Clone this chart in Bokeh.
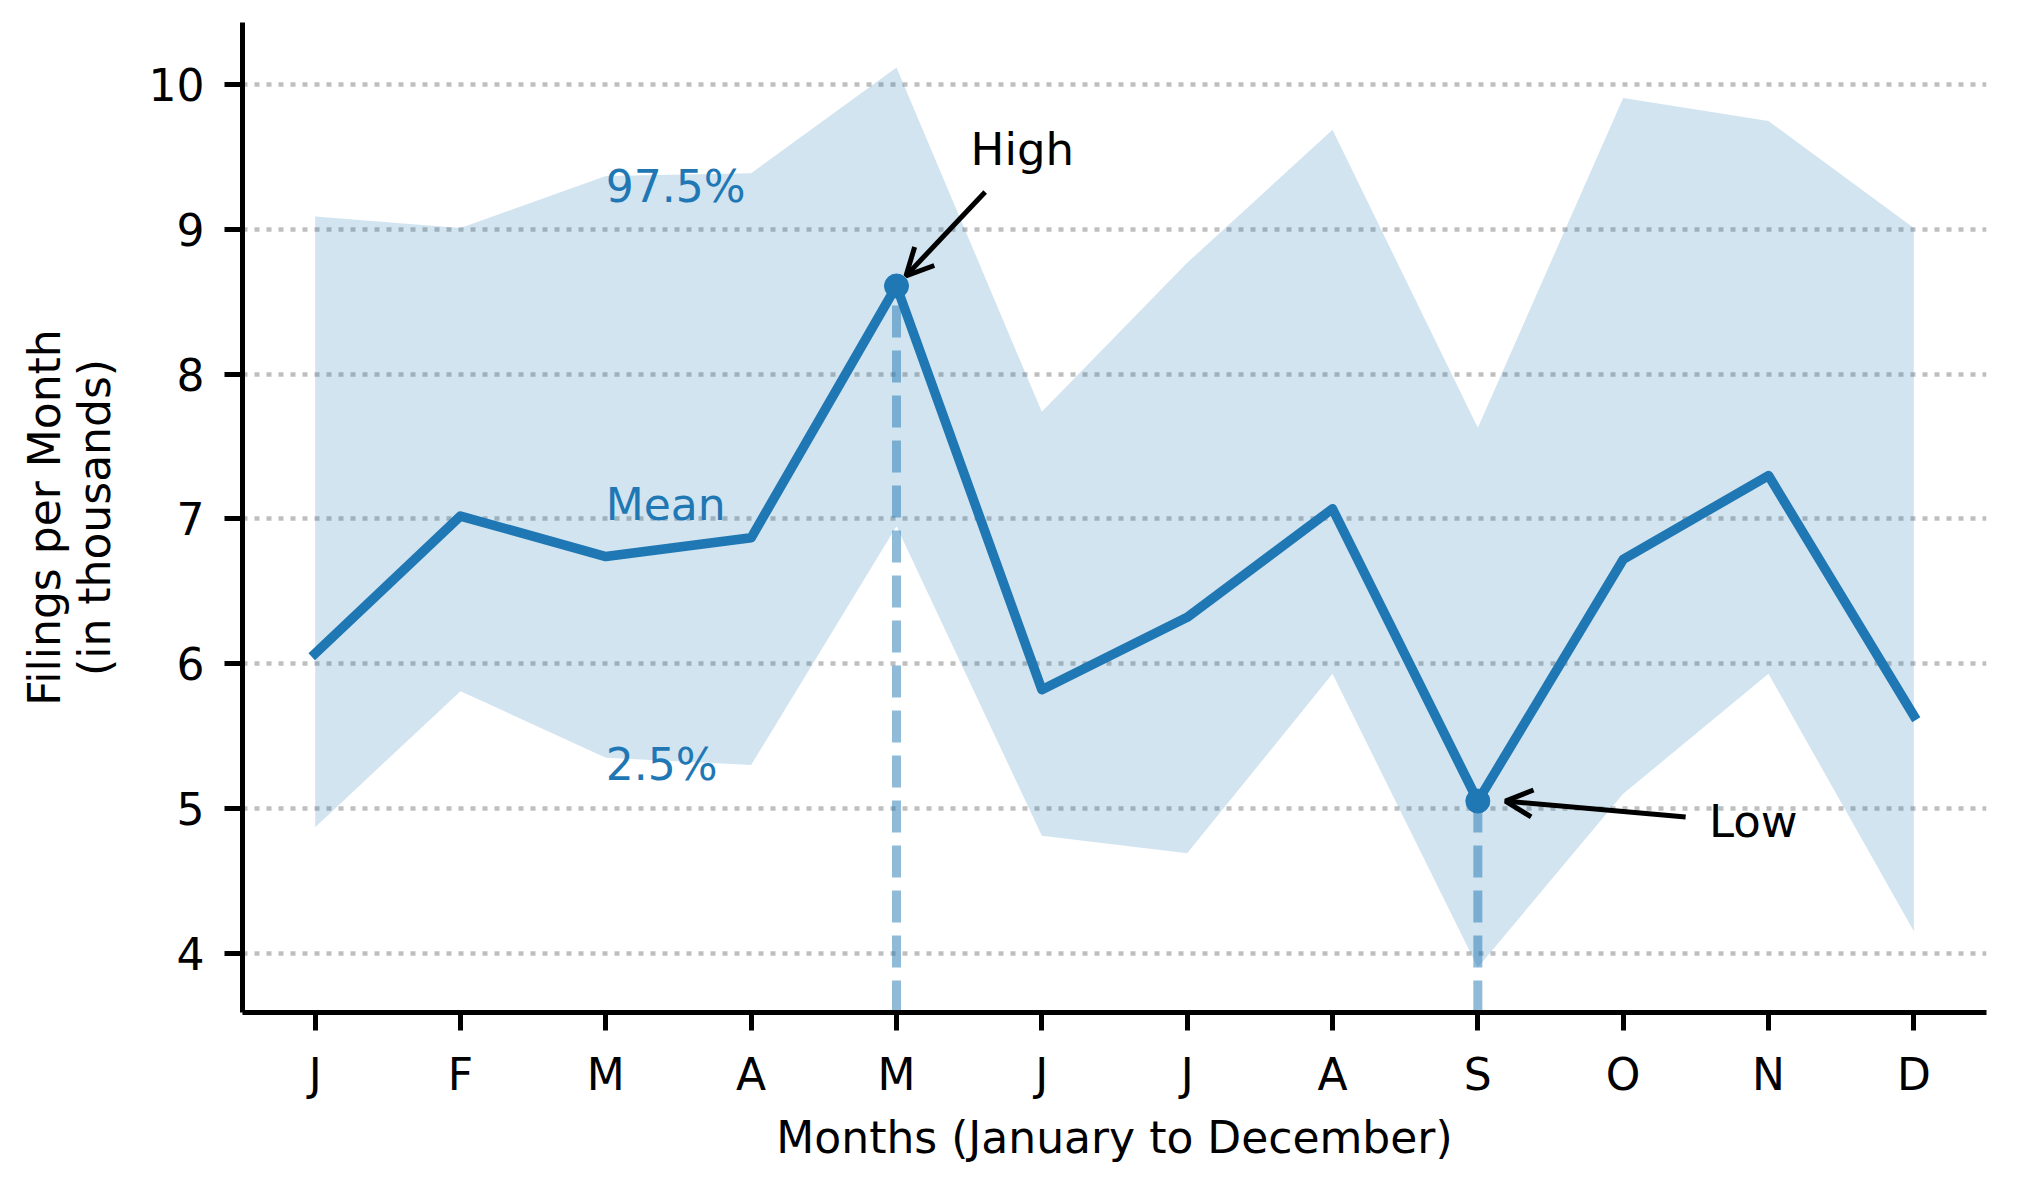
from bokeh.plotting import figure
from bokeh.models import FixedTicker, Label, Arrow, OpenHead
from bokeh.embed import file_html
from bokeh.resources import INLINE

# ---- data ----
months = list(range(1, 13))
month_labels = ["J", "F", "M", "A", "M", "J", "J", "A", "S", "O", "N", "D"]
mean = [6.07, 7.02, 6.74, 6.87, 8.61, 5.82, 6.32, 7.07, 5.05, 6.72, 7.30, 5.64]
upper = [9.09, 9.01, 9.37, 9.39, 10.12, 7.74, 8.77, 9.69, 7.63, 9.91, 9.75, 9.01]
lower = [4.87, 5.81, 5.35, 5.30, 6.95, 4.81, 4.69, 5.93, 3.90, 5.10, 5.93, 4.15]
y_ticks = [4, 5, 6, 7, 8, 9, 10]

C0 = "#1f77b4"
FONT = "DejaVu Sans"
TXT_SHIFT = 0.10  # compensate text baseline rendering

lo_all, hi_all = min(lower), max(upper)
pad = 0.05 * (hi_all - lo_all)
ylo, yhi = lo_all - pad, hi_all + pad

p = figure(width=2000, height=1170, x_range=(0.5, 12.5), y_range=(ylo, yhi),
           min_border_left=242, min_border_right=14, min_border_top=22, min_border_bottom=158,
           output_backend="svg", toolbar_location=None)
p.outline_line_color = None
p.background_fill_color = "white"
p.border_fill_color = "white"

# grid
p.xgrid.grid_line_color = None
p.ygrid.grid_line_color = "#808080"
p.ygrid.grid_line_alpha = 0.5
p.ygrid.grid_line_width = 4.5
p.ygrid.grid_line_dash = "5 7"

# axes
for ax in (p.xaxis[0], p.yaxis[0]):
    ax.axis_line_width = 5
    ax.major_tick_line_width = 5
    ax.major_tick_out = 18
    ax.major_tick_in = 0
    ax.minor_tick_line_color = None
    ax.major_label_text_font = FONT
    ax.major_label_text_font_size = "44px"
    ax.major_label_text_color = "black"
    ax.axis_label_text_font = FONT
    ax.axis_label_text_font_size = "44px"
    ax.axis_label_text_font_style = "normal"
    ax.axis_label_text_color = "black"
    ax.axis_line_color = "black"
    ax.major_tick_line_color = "black"

p.xaxis.ticker = FixedTicker(ticks=months)
p.xaxis.major_label_overrides = {m: lab for m, lab in zip(months, month_labels)}
p.xaxis.major_label_standoff = 18
p.xaxis.axis_label = "Months (January to December)"
p.xaxis.axis_label_standoff = 9

p.yaxis.ticker = FixedTicker(ticks=y_ticks)
p.yaxis.major_label_standoff = 20
p.yaxis.axis_label = "Filings per Month\n(in thousands)"
p.yaxis.axis_label_standoff = 26
p.yaxis.axis_label_text_line_height = 0.98

# band
p.varea(x=months, y1=lower, y2=upper, fill_color=C0, fill_alpha=0.2)

# high / low
hi_i = max(range(12), key=lambda i: mean[i])
lo_i = min(range(12), key=lambda i: mean[i])
hx, hy = months[hi_i], mean[hi_i]
lx, ly = months[lo_i], mean[lo_i]

p.segment(x0=[hx, lx], y0=[ylo, ylo], x1=[hx, lx], y1=[hy, ly],
          line_color=C0, line_alpha=0.5, line_width=9, line_dash="32 13")

# mean line
p.line(months, mean, line_color=C0, line_width=9.5, line_join="round", line_cap="square")
p.scatter([hx, lx], [hy, ly], size=24, fill_color=C0, line_color=C0)

# band labels
for txt, yy in (("97.5%", 9.2), ("Mean", 7.0), ("2.5%", 5.2)):
    p.add_layout(Label(x=3, y=yy + TXT_SHIFT, text=txt, text_color=C0, text_font=FONT,
                       text_font_size="44px", text_align="left", text_baseline="alphabetic"))

# annotations
p.add_layout(Arrow(end=OpenHead(size=27, line_width=5, line_color="black"),
                   x_start=hx + 0.61, y_start=hy + 0.65, x_end=hx + 0.065, y_end=hy + 0.07,
                   line_width=5, line_color="black"))
p.add_layout(Label(x=hx + 0.51, y=hy + 0.84 + TXT_SHIFT, text="High", text_color="black", text_font=FONT,
                   text_font_size="45px", text_align="left", text_baseline="alphabetic"))

p.add_layout(Arrow(end=OpenHead(size=27, line_width=5, line_color="black"),
                   x_start=lx + 1.43, y_start=ly - 0.11, x_end=lx + 0.19, y_end=ly,
                   line_width=5, line_color="black"))
p.add_layout(Label(x=lx + 1.59, y=ly - 0.24 + TXT_SHIFT, text="Low", text_color="black", text_font=FONT,
                   text_font_size="45px", text_align="left", text_baseline="alphabetic"))

open("out.html", "w").write(file_html(p, INLINE))
